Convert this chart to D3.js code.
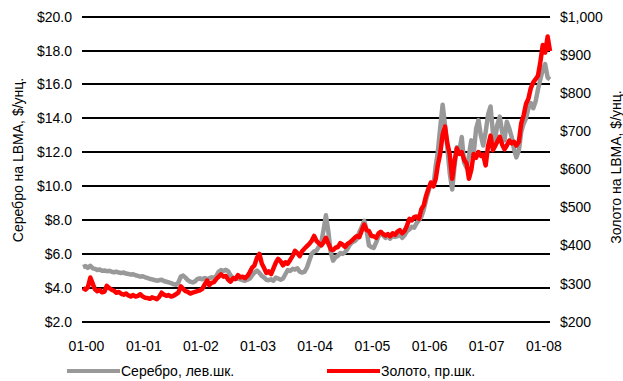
<!DOCTYPE html>
<html>
<head>
<meta charset="utf-8">
<script src="https://cdn.jsdelivr.net/npm/d3@7/dist/d3.min.js"></script>
<style>
  html, body { margin: 0; padding: 0; background: #fff; }
  svg { display: block; }
  text { font-family: "Liberation Sans", Arial, sans-serif; fill: #000; }
</style>
</head>
<body>
<svg id="chart" width="623" height="381"></svg>
<script>
// Semi-monthly LBMA fixes, first point 16 Dec 1999, then the 1st and 16th of each month.
const silverPrices = [5.22,
  5.28,5.18,5.30,5.15,5.12,5.05,5.08,5.00,5.02,4.98,5.00,4.95, 4.92,4.95,4.90,4.88,4.90,4.84,4.82,4.78,4.80,4.74,4.70,4.66,
  4.68,4.62,4.58,4.52,4.50,4.46,4.42,4.45,4.48,4.40,4.36,4.32, 4.28,4.22,4.18,4.30,4.66,4.72,4.60,4.45,4.36,4.32,4.38,4.52,
  4.56,4.50,4.58,4.52,4.56,4.62,4.58,4.70,4.95,5.05,5.00,5.06, 4.98,4.72,4.60,4.52,4.56,4.50,4.45,4.42,4.48,4.55,4.75,4.90,
  5.02,4.88,4.70,4.60,4.48,4.45,4.50,4.42,4.60,4.55,4.48,4.55, 4.80,5.05,5.00,5.12,5.08,5.15,4.95,4.90,4.95,5.20,5.60,6.00,
  6.15,6.20,6.45,6.70,7.40,8.28,7.30,6.10,5.60,5.80,5.90,6.05, 6.00,6.10,6.30,6.55,6.70,6.75,6.90,7.30,7.60,7.95,7.40,6.50,
  6.40,6.35,6.70,7.05,7.20,7.10,6.95,7.05,6.90,7.10,7.00,7.05, 7.15,6.95,7.10,7.35,7.45,7.60,7.55,7.80,8.00,8.20,8.60,9.20,
  9.70,10.20,10.00,11.20,12.00,13.40,14.80,13.60,12.30,10.80,9.80,11.20, 12.30,12.00,12.90,11.40,11.10,11.80,12.70,11.90,13.40,13.90,13.00,12.40,
  13.20,14.20,14.70,13.20,12.70,13.60,14.10,13.20,12.70,13.80,13.40,12.90, 12.20,11.70,12.10,13.20,13.70,14.00,14.60,14.90,14.60,15.00,15.70,16.30,
  16.90,17.20,16.40,16.30];

const goldPrices = [288,
  284,290,316,300,285,280,283,277,279,294,288,284, 281,276,278,273,271,274,269,266,270,266,268,272,
  266,263,262,260,264,262,259,265,276,271,268,270, 266,268,272,276,293,286,280,278,274,276,278,280,
  282,286,298,308,296,302,304,312,318,324,318,320, 310,305,314,312,322,316,318,314,320,330,342,348,
  368,378,352,340,328,332,325,340,355,365,358,348, 356,352,362,372,386,380,372,385,392,398,404,412,
  425,412,405,400,408,420,405,390,388,394,396,406, 402,396,404,408,414,420,425,422,440,455,440,438,
  425,424,420,432,436,430,426,430,424,432,428,436, 440,432,438,452,470,466,474,476,470,495,505,530,
  550,565,555,575,610,640,690,712,668,640,575,620, 655,640,645,625,615,575,598,640,630,645,635,638,
  610,660,688,650,660,672,685,665,652,662,675,668, 672,662,672,720,742,772,785,812,828,836,845,880,
  926,906,948,910];

const leftTicks = [2, 4, 6, 8, 10, 12, 14, 16, 18, 20];
const rightTicks = [200, 300, 400, 500, 600, 700, 800, 900, 1000];
const yearTicks = ["2000","2001","2002","2003","2004","2005","2006","2007","2008"];
const seriesNames = ["Серебро, лев.шк.", "Золото, пр.шк."];
const axisTitles = ["Серебро на LBMA, $/унц.", "Золото на LBMA, $/унц."];

// observation dates: 16 Dec 1999, then 1st / 16th of every month
const dates = silverPrices.map((_, i) => {
  const m = Math.floor((i + 1) / 2);
  return new Date(Date.UTC(1999, 11 + m, i % 2 === 1 ? 1 : 16));
});

const svg = d3.select("#chart");
const plot = { left: 82, right: 550, top: 16.7, bottom: 321.7 };

const x = d3.scaleUtc().domain([dates[0], dates[dates.length - 1]]).range([83, 550]);
const yL = d3.scaleLinear().domain([2, 20]).range([plot.bottom, plot.top]);
const yR = d3.scaleLinear().domain([200, 1000]).range([plot.bottom, plot.top]);

// horizontal gridlines (bottom one doubles as the x axis line)
svg.append("g").selectAll("line").data(leftTicks).join("line")
  .attr("x1", plot.left).attr("x2", plot.right)
  .attr("y1", d => Math.round(yL(d))).attr("y2", d => Math.round(yL(d)))
  .attr("stroke", "#000").attr("stroke-width", 2);

// left axis labels
const fmtL = d3.format("$.1f");
svg.append("g").selectAll("text").data(leftTicks).join("text")
  .attr("x", 72).attr("y", d => yL(d) + 5)
  .attr("text-anchor", "end").style("font-size", "14px")
  .text(d => fmtL(d));

// right axis labels
const fmtR = d3.format("$,");
svg.append("g").selectAll("text").data(rightTicks).join("text")
  .attr("x", 560).attr("y", d => yR(d) + 5)
  .attr("text-anchor", "start").style("font-size", "14px")
  .text(d => fmtR(d));

// year labels under the axis
const fmtX = d3.utcFormat("%m-%y");
svg.append("g").selectAll("text").data(yearTicks.map(y => new Date(Date.UTC(+y, 0, 1)))).join("text")
  .attr("x", d => x(d) + 1).attr("y", 351)
  .attr("text-anchor", "middle").style("font-size", "14px")
  .text(d => fmtX(d));

// axis titles
svg.append("text")
  .attr("transform", "translate(23,160) rotate(-90)")
  .attr("text-anchor", "middle").style("font-size", "14px")
  .text(axisTitles[0]);
svg.append("text")
  .attr("transform", "translate(621,167) rotate(-90)")
  .attr("text-anchor", "middle").style("font-size", "14px")
  .text(axisTitles[1]);

// price lines
const lineL = d3.line().x((d, i) => x(dates[i])).y(d => yL(d));
const lineR = d3.line().x((d, i) => x(dates[i])).y(d => yR(d));

svg.append("path").datum(silverPrices)
  .attr("d", lineL).attr("fill", "none")
  .attr("stroke", "#999999").attr("stroke-width", 4.5)
  .attr("stroke-linejoin", "round");

svg.append("path").datum(goldPrices)
  .attr("d", lineR).attr("fill", "none")
  .attr("stroke", "#ff0000").attr("stroke-width", 4.5)
  .attr("stroke-linejoin", "round");

// legend
const legend = [
  { name: seriesNames[0], color: "#999999", x0: 67 },
  { name: seriesNames[1], color: "#ff0000", x0: 327 }
];
const lg = svg.append("g").selectAll("g").data(legend).join("g");
lg.append("line")
  .attr("x1", d => d.x0).attr("x2", d => d.x0 + 53)
  .attr("y1", 371).attr("y2", 371)
  .attr("stroke", d => d.color).attr("stroke-width", 4);
lg.append("text")
  .attr("x", d => d.x0 + 54).attr("y", 376)
  .style("font-size", "14px")
  .text(d => d.name);
</script>
</body>
</html>
